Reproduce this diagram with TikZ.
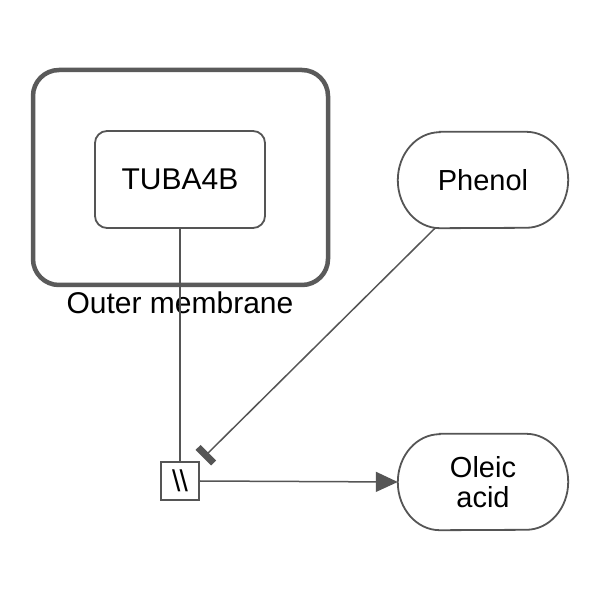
\documentclass[tikz,border=0pt]{standalone}
\usepackage{fontspec}
\setmainfont{Liberation Sans}
\usetikzlibrary{arrows.meta}
\definecolor{edge}{HTML}{555555}
\definecolor{comp}{HTML}{5A5A5A}
\tikzset{
  box/.style={draw=edge, line width=1.8pt, rounded corners=12pt, minimum width=170pt, minimum height=97pt, inner sep=0pt, font=\fontsize{30}{32}\selectfont},
  chem/.style={minimum width=170pt, minimum height=96pt, inner sep=0pt, align=center, font=\fontsize{29}{30}\selectfont},
  chemline/.style={draw=edge, line width=1.8pt},
  proc/.style={draw=edge, line width=1.6pt, minimum size=38pt, inner sep=0pt, font=\fontsize{30}{30}\selectfont},
  link/.style={draw=edge, line width=1.5pt},
}
\begin{document}
\begin{tikzpicture}[x=1pt,y=1pt]
\useasboundingbox[fill=white] (0,0) rectangle (600,600);
% compartment
\draw[draw=comp, line width=4.5pt, rounded corners=26pt] (33,315) rectangle (328,530);
\node[font=\fontsize{30}{32}\selectfont] (lbl) at (180,297) {Outer membrane};
% nodes
\node[box] (tuba) at (180,420.5) {TUBA4B};
\node[chem] (ph) at (483,420) {Phenol};
\node[chem] (ol) at (483,118) {Oleic\\acid};
\node[proc] (pr) at (180,119) {\raisebox{1pt}{\textbackslash\kern-1pt\textbackslash}};
% chemical shapes
\foreach \n in {ph,ol}{
  \draw[chemline] ([xshift=42pt]\n.north west) -- ([xshift=-42pt]\n.north east)
    arc[start angle=90, end angle=-90, x radius=42pt, y radius=48pt]
    -- ([xshift=42pt]\n.south west)
    arc[start angle=270, end angle=90, x radius=42pt, y radius=48pt] -- cycle;
}
% connectors
\draw[link] (tuba.south) -- (pr.north);
\draw[link, -{Bar[width=22pt, line width=7pt]}, shorten >=5pt] ([xshift=-48pt]ph.south) -- (pr.north east);
\draw[link, -{Triangle[length=22pt, width=20pt]}] (pr.east) -- (ol.west);
\end{tikzpicture}
\end{document}
